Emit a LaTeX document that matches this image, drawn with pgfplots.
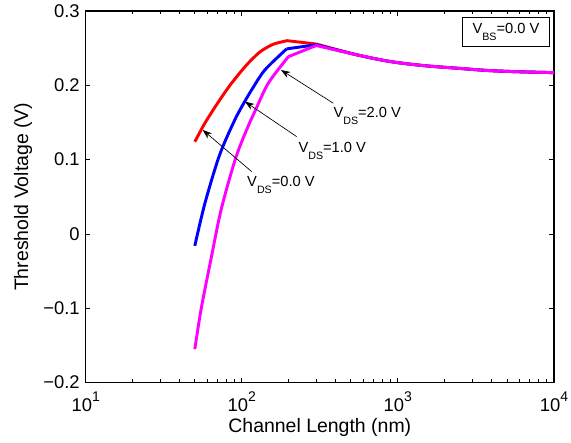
\documentclass[border=0pt]{standalone}
\usepackage{fontspec}
\setmainfont{Liberation Sans}
\usepackage{pgfplots}
\pgfplotsset{compat=1.18}
\usetikzlibrary{arrows.meta}
\definecolor{mred}{RGB}{255,0,0}
\definecolor{mblue}{RGB}{0,0,255}
\definecolor{mmag}{RGB}{255,0,255}
% matlab-style super/subscripts
\newcommand\tsup[1]{\raisebox{7.5pt}{\fontsize{10.5}{10.5}\selectfont #1}}
\newcommand\tsub[1]{\raisebox{-5.8pt}{\fontsize{8}{8}\selectfont #1}}

\begin{document}
\begin{tikzpicture}
\begin{axis}[
    scale only axis,
    width=351.2pt, height=278.8pt,
    xmode=log,
    xmin=10, xmax=10000,
    ymin=-0.2, ymax=0.3,
    xtick={10,100,1000,10000},
    xticklabels={10\tsup{1},10\tsup{2},10\tsup{3},10\tsup{4}},
    ytick={-0.2,-0.1,0,0.1,0.2,0.3},
    yticklabels={−0.2,−0.1,0,0.1,0.2,0.3},
    tick label style={font=\fontsize{13.8}{16}\selectfont},
    xticklabel style={inner sep=0pt, yshift=-6.75pt},
    yticklabel style={inner sep=0pt, xshift=-4.3pt},
    major tick length=3.5pt,
    minor tick length=2.5pt,
    tick style={black, line width=0.6pt},
    axis line style={line width=0.9pt},
    xlabel={Channel Length (nm)},
    ylabel={Threshold Voltage (V)},
    every axis x label/.style={at={(axis description cs:0.5,-0.122)}, anchor=center,
        font=\fontsize{14.6}{17}\selectfont},
    every axis y label/.style={at={(axis description cs:-0.134,0.5)}, rotate=90, anchor=center,
        font=\fontsize{14.6}{17}\selectfont},
    every axis plot/.append style={line width=2.2pt, line join=round},
]
% V_DS = 0.0 V
\addplot[mred, smooth] coordinates {
  (50,0.124) (58,0.149) (70,0.176) (82,0.197) (90,0.208) (102,0.222)
  (115,0.234) (131,0.245) (148,0.252) (163,0.256) (195,0.260)
};
\addplot[mred] coordinates {(195,0.260) (300,0.2555)};
\addplot[mred, smooth] coordinates {
  (300,0.2555) (545,0.241) (890,0.232) (1455,0.2265) (2380,0.223) (3890,0.2197) (6360,0.218) (10000,0.217)
};
% V_DS = 1.0 V
\addplot[mblue, smooth] coordinates {
  (50,-0.016) (58,0.041) (72,0.106) (90,0.153) (105,0.179) (119,0.198)
  (141,0.221) (194,0.249)
};
\addplot[mblue] coordinates {(194,0.249) (300,0.2545)};
\addplot[mblue, smooth] coordinates {
  (300,0.2545) (545,0.241) (890,0.232) (1455,0.2265) (2380,0.223) (3890,0.2197) (6360,0.218) (10000,0.217)
};
% V_DS = 2.0 V
\addplot[mmag, smooth] coordinates {
  (50,-0.155) (55,-0.100) (64,-0.030) (74,0.034) (92,0.104) (113,0.151)
  (122,0.166) (148,0.203) (199,0.2385)
};
\addplot[mmag] coordinates {(199,0.2385) (300,0.2535)};
\addplot[mmag, smooth] coordinates {
  (300,0.2535) (545,0.241) (890,0.232) (1455,0.2265) (2380,0.223) (3890,0.2197) (6360,0.218) (10000,0.217)
};

\draw[-{Stealth[length=7pt,width=5pt]}, line width=0.5pt]
  (rel axis cs:0.3545,0.5677) -- (rel axis cs:0.2498,0.6799);
\draw[-{Stealth[length=7pt,width=5pt]}, line width=0.5pt]
  (rel axis cs:0.4506,0.6618) -- (rel axis cs:0.3402,0.7560);
\draw[-{Stealth[length=7pt,width=5pt]}, line width=0.5pt]
  (rel axis cs:0.5287,0.7517) -- (rel axis cs:0.4170,0.8413);

\node[anchor=north west, inner sep=0pt, font=\fontsize{11}{13}\selectfont]
  at (rel axis cs:0.3444,0.5569) {V\tsub{DS}=0.0 V};
\node[anchor=north west, inner sep=0pt, font=\fontsize{11}{13}\selectfont]
  at (rel axis cs:0.4540,0.6484) {V\tsub{DS}=1.0 V};
\node[anchor=north west, inner sep=0pt, font=\fontsize{11}{13}\selectfont]
  at (rel axis cs:0.5287,0.7425) {V\tsub{DS}=2.0 V};

\node[draw, line width=0.6pt, fill=white, inner sep=0pt,
      minimum width=65.3pt, minimum height=22pt, font=\fontsize{11}{13}\selectfont]
  at (rel axis cs:0.8975,0.9435) {V\tsub{BS}=0.0 V};
\end{axis}
\pgfresetboundingbox
\path[use as bounding box] (-64.3pt,-45.2pt) rectangle (364.0pt,287.0pt);
\end{tikzpicture}
\end{document}
